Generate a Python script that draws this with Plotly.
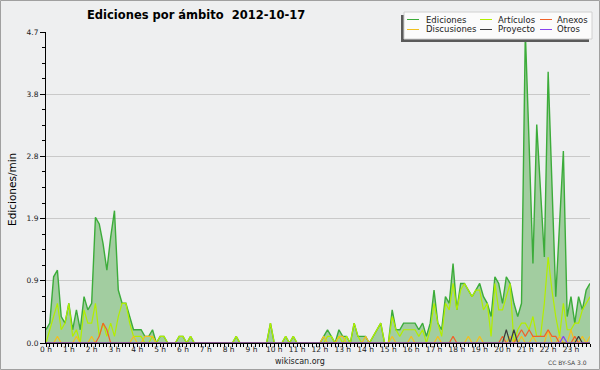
import plotly.graph_objects as go

# --- data: 10-minute samples, edits per minute ---
hour_labels = [f"{h} h" for h in range(24)]
hours = list(range(24))
times = [h + m / 60 for h in range(24) for m in range(0, 60, 10)]

ediciones = [
    0.2, 0.3, 1.0, 1.1, 0.4, 0.3,
    0.6, 0.2, 0.5, 0.2, 0.7, 0.5,
    0.6, 1.9, 1.8, 1.5, 1.1, 1.6,
    2.0, 0.8, 0.6, 0.6, 0.4, 0.2,
    0.2, 0.2, 0.1, 0.1, 0.2, 0.0,
    0.1, 0.1, 0.0, 0.0, 0.0, 0.1,
    0.1, 0.0, 0.1, 0.0, 0.0, 0.0,
    0.0, 0.0, 0.0, 0.0, 0.0, 0.0,
    0.0, 0.0, 0.1, 0.0, 0.0, 0.0,
    0.0, 0.0, 0.0, 0.0, 0.0, 0.3,
    0.0, 0.0, 0.0, 0.1, 0.0, 0.1,
    0.0, 0.0, 0.0, 0.0, 0.0, 0.0,
    0.0, 0.1, 0.2, 0.1, 0.0, 0.2,
    0.1, 0.1, 0.0, 0.3, 0.1, 0.1,
    0.1, 0.0, 0.1, 0.2, 0.3, 0.0,
    0.0, 0.5, 0.2, 0.2, 0.3, 0.3,
    0.3, 0.3, 0.2, 0.3, 0.1, 0.3,
    0.8, 0.3, 0.2, 0.7, 0.6, 1.2,
    0.5, 0.9, 0.9, 0.8, 0.7, 0.8,
    0.9, 0.7, 0.6, 0.4, 1.0, 0.9,
    0.6, 1.0, 0.9, 0.6, 0.4, 0.6,
    4.7, 3.0, 1.2, 3.3, 2.3, 1.3,
    4.1, 2.4, 0.7, 1.8, 2.9, 0.4,
    0.7, 0.3, 0.7, 0.5, 0.8, 0.9,
]

articulos = [
    0.0, 0.2, 0.4, 0.6, 0.2, 0.3,
    0.6, 0.1, 0.2, 0.0, 0.5, 0.3,
    0.3, 0.6, 0.1, 0.3, 0.1, 0.3,
    0.1, 0.4, 0.6, 0.6, 0.3, 0.1,
    0.1, 0.1, 0.0, 0.0, 0.1, 0.0,
    0.1, 0.1, 0.0, 0.0, 0.0, 0.1,
    0.1, 0.0, 0.1, 0.0, 0.0, 0.0,
    0.0, 0.0, 0.0, 0.0, 0.0, 0.0,
    0.0, 0.0, 0.1, 0.0, 0.0, 0.0,
    0.0, 0.0, 0.0, 0.0, 0.0, 0.3,
    0.0, 0.0, 0.0, 0.1, 0.0, 0.1,
    0.0, 0.0, 0.0, 0.0, 0.0, 0.0,
    0.0, 0.0, 0.1, 0.1, 0.0, 0.1,
    0.0, 0.1, 0.0, 0.3, 0.1, 0.0,
    0.0, 0.0, 0.1, 0.2, 0.3, 0.0,
    0.0, 0.4, 0.2, 0.1, 0.2, 0.2,
    0.2, 0.2, 0.1, 0.2, 0.0, 0.2,
    0.6, 0.3, 0.1, 0.6, 0.5, 0.9,
    0.5, 0.8, 0.9, 0.8, 0.7, 0.8,
    0.8, 0.5, 0.6, 0.1, 0.9, 0.5,
    0.5, 0.7, 0.9, 0.0, 0.2, 0.3,
    0.3, 0.2, 0.4, 0.1, 0.1, 0.6,
    1.3, 0.8, 0.4, 0.1, 0.6, 0.2,
    0.2, 0.3, 0.3, 0.5, 0.6, 0.7,
]

discusiones = [
    0.0, 0.0, 0.0, 0.1, 0.0, 0.0,
    0.0, 0.0, 0.1, 0.0, 0.0, 0.0,
    0.1, 0.0, 0.0, 0.0, 0.0, 0.0,
    0.0, 0.0, 0.0, 0.0, 0.0, 0.1,
    0.0, 0.0, 0.1, 0.1, 0.1, 0.0,
    0.0, 0.0, 0.0, 0.0, 0.0, 0.0,
    0.0, 0.0, 0.0, 0.0, 0.0, 0.0,
    0.0, 0.0, 0.0, 0.0, 0.0, 0.0,
    0.0, 0.0, 0.0, 0.0, 0.0, 0.0,
    0.0, 0.0, 0.0, 0.0, 0.0, 0.0,
    0.0, 0.0, 0.0, 0.0, 0.0, 0.0,
    0.0, 0.0, 0.0, 0.0, 0.0, 0.0,
    0.0, 0.1, 0.0, 0.0, 0.0, 0.1,
    0.1, 0.0, 0.0, 0.0, 0.0, 0.0,
    0.1, 0.0, 0.0, 0.0, 0.0, 0.0,
    0.0, 0.1, 0.0, 0.0, 0.0, 0.0,
    0.1, 0.0, 0.0, 0.0, 0.0, 0.0,
    0.0, 0.1, 0.0, 0.0, 0.0, 0.0,
    0.0, 0.0, 0.0, 0.1, 0.0, 0.0,
    0.1, 0.0, 0.0, 0.0, 0.0, 0.0,
    0.0, 0.0, 0.1, 0.0, 0.0, 0.1,
    0.0, 0.0, 0.1, 0.0, 0.0, 0.0,
    0.2, 0.0, 0.0, 0.1, 0.0, 0.0,
    0.2, 0.0, 0.0, 0.1, 0.0, 0.1,
]

anexos = [
    0.0, 0.0, 0.0, 0.0, 0.0, 0.0,
    0.0, 0.0, 0.0, 0.0, 0.0, 0.0,
    0.0, 0.0, 0.1, 0.3, 0.2, 0.0,
    0.0, 0.0, 0.0, 0.0, 0.0, 0.0,
    0.0, 0.0, 0.0, 0.0, 0.0, 0.0,
    0.0, 0.0, 0.0, 0.0, 0.0, 0.0,
    0.0, 0.0, 0.0, 0.0, 0.0, 0.0,
    0.0, 0.0, 0.0, 0.0, 0.0, 0.0,
    0.0, 0.0, 0.0, 0.0, 0.0, 0.0,
    0.0, 0.0, 0.0, 0.0, 0.0, 0.0,
    0.0, 0.0, 0.0, 0.0, 0.0, 0.0,
    0.0, 0.0, 0.0, 0.0, 0.0, 0.0,
    0.0, 0.0, 0.0, 0.0, 0.0, 0.0,
    0.0, 0.0, 0.0, 0.0, 0.0, 0.0,
    0.0, 0.0, 0.0, 0.0, 0.0, 0.0,
    0.0, 0.0, 0.0, 0.0, 0.0, 0.0,
    0.0, 0.0, 0.0, 0.0, 0.0, 0.0,
    0.0, 0.0, 0.0, 0.0, 0.0, 0.1,
    0.0, 0.0, 0.0, 0.0, 0.0, 0.0,
    0.0, 0.0, 0.0, 0.0, 0.0, 0.0,
    0.1, 0.0, 0.0, 0.0, 0.1, 0.2,
    0.1, 0.2, 0.1, 0.1, 0.1, 0.1,
    0.2, 0.1, 0.1, 0.0, 0.0, 0.0,
    0.0, 0.1, 0.0, 0.0, 0.0, 0.0,
]

proyecto = [0.0] * 6 * 20 + [
    0.0, 0.2, 0.0, 0.2, 0.0, 0.0,
] + [0.0] * 6 * 2 + [
    0.0, 0.0, 0.1, 0.0, 0.0, 0.0,
]

otros = [0.0] * 6 * 22 + [
    0.0, 0.0, 0.0, 0.0, 0.1, 0.0,
] + [0.0] * 6

y_ticks = [0.0, 0.94, 1.88, 2.82, 3.76, 4.7]
y_tick_labels = ["0.0", "0.9", "1.9", "2.8", "3.8", "4.7"]

series = [
    ("Ediciones", ediciones, "#3cac3a"),
    ("Artículos", articulos, "#b2ee00"),
    ("Discusiones", discusiones, "#f0c020"),
    ("Anexos", anexos, "#f0622a"),
    ("Proyecto", proyecto, "#3c3c3c"),
    ("Otros", otros, "#8844ee"),
]

# --- geometry helpers (pixel -> paper) ---
L, R, T, B = 46, 10, 32, 27
W, H = 600 - L - R, 370 - T - B
def px(x):
    return (x - L) / W
def py(y):
    return (370 - B - y) / H

FONT = "DejaVu Sans"
fig = go.Figure()
for i, (name, vals, col) in enumerate(series):
    if i == 0:
        fig.add_trace(go.Scatter(x=times, y=vals, mode="lines", name=name,
                                 line=dict(color=col, width=1.4),
                                 fill="tozeroy", fillcolor="#a2cda0",
                                 showlegend=False, hoverinfo="skip"))
    else:
        fig.add_trace(go.Scatter(x=times, y=vals, mode="lines", name=name,
                                 line=dict(color=col, width=1.2),
                                 showlegend=False, hoverinfo="skip"))

shapes = []
annotations = []
# whole-image border
shapes.append(dict(type="rect", xref="paper", yref="paper",
                   x0=px(0.5), x1=px(599.5), y0=py(369.5), y1=py(0.5),
                   line=dict(color="#a0a0a0", width=1), layer="above"))
# legend box with shadow
shapes.append(dict(type="rect", xref="paper", yref="paper",
                   x0=px(401), x1=px(589), y0=py(42), y1=py(15),
                   fillcolor="#5a5a5a", line=dict(width=0), layer="above"))
shapes.append(dict(type="rect", xref="paper", yref="paper",
                   x0=px(404), x1=px(592), y0=py(39), y1=py(12),
                   fillcolor="#fbfbfb", line=dict(color="#d0d0d0", width=1), layer="above"))
legend_layout = [
    ("Ediciones", 407, 424, 19.5),
    ("Artículos", 480, 496, 19.5),
    ("Anexos", 540, 555, 19.5),
    ("Discusiones", 407, 424, 29.5),
    ("Proyecto", 480, 496, 29.5),
    ("Otros", 540, 555, 29.5),
]
colors = {n: c for n, _, c in series}
for name, lx, tx, ly in legend_layout:
    shapes.append(dict(type="line", xref="paper", yref="paper",
                       x0=px(lx), x1=px(lx + 12), y0=py(ly), y1=py(ly),
                       line=dict(color=colors[name], width=1), layer="above"))
    annotations.append(dict(text=name, xref="paper", yref="paper",
                            x=px(tx), y=py(ly), xanchor="left", yanchor="middle",
                            showarrow=False, font=dict(family=FONT, size=8.5, color="#222")))

annotations.append(dict(text="<b>Ediciones por ámbito \u00a02012-10-17</b>",
                        xref="paper", yref="paper", x=px(85), y=py(15),
                        xanchor="left", yanchor="middle", showarrow=False,
                        font=dict(family=FONT, size=11.5, color="#000")))
annotations.append(dict(text="Ediciones/min", xref="paper", yref="paper",
                        x=px(12), y=py(190), xanchor="center", yanchor="middle",
                        textangle=-90, showarrow=False,
                        font=dict(family=FONT, size=10.5, color="#000")))
annotations.append(dict(text="wikiscan.org", xref="paper", yref="paper",
                        x=px(300), y=py(361), xanchor="center", yanchor="middle",
                        showarrow=False, font=dict(family=FONT, size=8, color="#222")))
annotations.append(dict(text="CC BY-SA 3.0", xref="paper", yref="paper",
                        x=px(589), y=py(362), xanchor="right", yanchor="middle",
                        showarrow=False, font=dict(family=FONT, size=6, color="#444")))

fig.update_layout(
    width=600, height=370,
    margin=dict(l=L, r=R, t=T, b=B, pad=0),
    paper_bgcolor="#eeeff0", plot_bgcolor="#eeeff0",
    showlegend=False,
    shapes=shapes, annotations=annotations,
    xaxis=dict(range=[0, times[-1]], tickmode="array", tickvals=hours,
               ticktext=hour_labels, ticks="outside", ticklen=3, tickwidth=1,
               tickcolor="#000", showline=True, linecolor="#000", linewidth=1,
               showgrid=False, zeroline=False, ticklabelstandoff=-4,
               tickfont=dict(family=FONT, size=7.5, color="#222"),
               minor=dict(dtick=1 / 6, tick0=0, ticks="outside", ticklen=3,
                          tickcolor="#000", showgrid=False)),
    yaxis=dict(range=[0, 4.7], tickmode="array", tickvals=y_ticks,
               ticktext=y_tick_labels, ticks="outside", ticklen=5, tickwidth=1,
               tickcolor="#000", showline=True, linecolor="#000", linewidth=1,
               showgrid=True, gridcolor="#c9c9c9", gridwidth=1, zeroline=False,
               tickfont=dict(family=FONT, size=7.5, color="#222"),
               minor=dict(dtick=0.235, tick0=0, ticks="outside", ticklen=3,
                          tickcolor="#000", showgrid=False)),
)

fig.write_html("out.html", config={"displayModeBar": False},
               post_script="document.body.style.margin='0';document.body.style.padding='0';")
